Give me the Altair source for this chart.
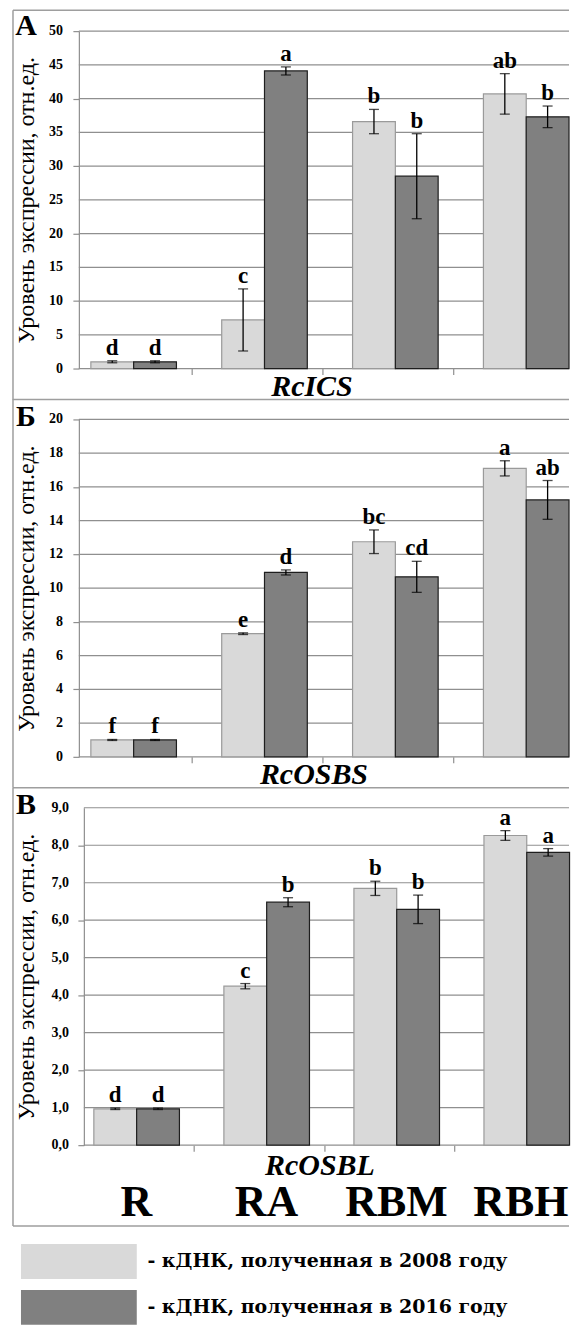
import altair as alt
import pandas as pd

# ---------------- data ----------------
categories = ["R", "RA", "RBM", "RBH"]
years = ["2008", "2016"]

ics_2008 = [1.0, 7.2, 36.6, 40.7]
ics_2008_err = [0.15, 4.6, 1.8, 3.0]
ics_2016 = [1.0, 44.1, 28.5, 37.3]
ics_2016_err = [0.15, 0.6, 6.3, 1.6]
ics_2008_letters = ["d", "c", "b", "ab"]
ics_2016_letters = ["d", "a", "b", "b"]
ics_ticks = [0, 5, 10, 15, 20, 25, 30, 35, 40, 45, 50]
ics_tick_labels = ["0", "5", "10", "15", "20", "25", "30", "35", "40", "45", "50"]

osbs_2008 = [1.0, 7.3, 12.75, 17.1]
osbs_2008_err = [0.03, 0.05, 0.7, 0.45]
osbs_2016 = [1.0, 10.93, 10.67, 15.23]
osbs_2016_err = [0.03, 0.15, 0.92, 1.15]
osbs_2008_letters = ["f", "e", "bc", "a"]
osbs_2016_letters = ["f", "d", "cd", "ab"]
osbs_ticks = [0, 2, 4, 6, 8, 10, 12, 14, 16, 18, 20]
osbs_tick_labels = ["0", "2", "4", "6", "8", "10", "12", "14", "16", "18", "20"]

osbl_2008 = [0.97, 4.24, 6.85, 8.26]
osbl_2008_err = [0.02, 0.07, 0.19, 0.13]
osbl_2016 = [0.97, 6.48, 6.29, 7.81]
osbl_2016_err = [0.02, 0.12, 0.38, 0.10]
osbl_2008_letters = ["d", "c", "b", "a"]
osbl_2016_letters = ["d", "b", "b", "a"]
osbl_ticks = [0, 1, 2, 3, 4, 5, 6, 7, 8, 9]
osbl_tick_labels = ["0,0", "1,0", "2,0", "3,0", "4,0", "5,0", "6,0", "7,0", "8,0", "9,0"]

y_title = "Уровень экспрессии, отн.ед."
legend_prefix = "- кДНК, полученная в "
legend_suffix = " году"

SERIF = "Liberation Serif"
GRID = "#8f8f8f"
COLORS = ["#d9d9d9", "#808080"]
W, H = 491, 338


def table(v08, e08, v16, e16, l08, l16):
    rows = []
    for i, c in enumerate(categories):
        for yr, v, e, l in (("2008", v08[i], e08[i], l08[i]), ("2016", v16[i], e16[i], l16[i])):
            rows.append({"cat": c, "year": yr, "value": v, "lo": v - e, "hi": v + e, "letter": l})
    return pd.DataFrame(rows)


one = pd.DataFrame({"k": [0]})


def panel(df, ticks, tick_labels, gene, letter, ymax, xrange, title_x, title_y, top, bottom,
          axis_offset=0, label_x=-16, ytitle_x=-45, letter_y=5, show_cats=False, last_dx=42):
    xscale = alt.Scale(domain=categories, range=xrange, paddingInner=0.346, paddingOuter=0)
    yscale = alt.Scale(domain=[0, ymax], nice=False)
    xaxis = alt.Axis(title=gene, labels=False, domain=False, values=["RA", "RBM", "RBH"],
                     bandPosition=0, tickOffset=-30, tickSize=6, tickColor=GRID, tickWidth=1.2,
                     grid=False, titleFont=SERIF, titleFontSize=30, titleFontWeight="bold",
                     titleFontStyle="italic", titleX=title_x, titleY=title_y, titleAlign="center",
                     titleBaseline="alphabetic", titleColor="black")
    yaxis = alt.Axis(title=y_title, values=ticks, labels=False, grid=False, offset=axis_offset,
                     tickSize=6, tickColor=GRID, tickWidth=1.2, domainColor=GRID, domainWidth=1.2,
                     titleFont=SERIF, titleFontSize=24, titleFontWeight="normal",
                     titleColor="black", titleAngle=270, titleX=ytitle_x, titleY=H / 2,
                     titleAlign="center", titleBaseline="alphabetic")
    x = alt.X("cat:N", sort=categories, scale=xscale, axis=xaxis)
    xo = alt.XOffset("year:N", sort=years, scale=alt.Scale(domain=years, paddingInner=0, paddingOuter=0))
    tick_df = pd.DataFrame({"v": ticks, "t": tick_labels})
    grid = alt.Chart(tick_df).mark_rule(color=GRID, strokeWidth=1.2).encode(
        x=alt.value(-axis_offset), x2=alt.value(W), y=alt.Y("v:Q", scale=yscale))
    base = alt.Chart(df)
    bars = base.mark_bar(strokeWidth=1.2).encode(
        x=x, xOffset=xo,
        y=alt.Y("value:Q", scale=yscale, axis=yaxis),
        color=alt.Color("year:N", scale=alt.Scale(domain=years, range=COLORS), legend=None),
        stroke=alt.when(alt.datum.year == "2008").then(alt.value("#9a9a9a")).otherwise(alt.value("#1e1e1e")),
    )
    err = base.mark_rule(color="black", strokeWidth=1.3).encode(
        x=x, xOffset=xo, y=alt.Y("lo:Q", scale=yscale), y2="hi:Q")
    cap_hi = base.mark_tick(orient="horizontal", size=10, thickness=1.3, color="black").encode(
        x=x, xOffset=xo, y=alt.Y("hi:Q", scale=yscale))
    cap_lo = base.mark_tick(orient="horizontal", size=10, thickness=1.3, color="black").encode(
        x=x, xOffset=xo, y=alt.Y("lo:Q", scale=yscale))
    letters = base.mark_text(font=SERIF, fontSize=23, fontWeight="bold", baseline="alphabetic",
                             dy=-6, color="black").encode(
        x=x, xOffset=xo, y=alt.Y("hi:Q", scale=yscale), text="letter:N")
    tlabels = alt.Chart(tick_df).mark_text(
        font=SERIF, fontSize=14, fontWeight="bold", align="right", baseline="middle",
        color="black").encode(x=alt.value(label_x), y=alt.Y("v:Q", scale=yscale), text="t:N")
    fr = alt.Chart(one).mark_rule(color="#9e9e9e", strokeWidth=1.5)
    frame_top = fr.encode(x=alt.value(-66), x2=alt.value(W), y=alt.value(top), y2=alt.value(top))
    frame_left = fr.encode(x=alt.value(-66), y=alt.value(top), y2=alt.value(bottom))
    plabel = alt.Chart(one).mark_text(font=SERIF, fontSize=30, fontWeight="bold", align="center",
                                      baseline="alphabetic", color="black").encode(
        x=alt.value(-53), y=alt.value(letter_y), text=alt.value(letter))
    layers = [grid, bars, err, cap_hi, cap_lo, letters, tlabels, frame_top, frame_left, plabel]
    if show_cats:
        frame_bot = fr.encode(x=alt.value(-66), x2=alt.value(W), y=alt.value(bottom), y2=alt.value(bottom))
        cat_base = alt.Chart(pd.DataFrame({"cat": categories}))
        cats = cat_base.transform_filter(alt.datum.cat != categories[-1]).mark_text(
            font=SERIF, fontSize=44, fontWeight="bold", baseline="alphabetic", color="black").encode(
            x=alt.X("cat:N", sort=categories, scale=xscale), y=alt.value(409), text="cat:N")
        cat_last = cat_base.transform_filter(alt.datum.cat == categories[-1]).mark_text(
            font=SERIF, fontSize=44, fontWeight="bold", baseline="alphabetic", align="right",
            dx=last_dx, color="black").encode(
            x=alt.X("cat:N", sort=categories, scale=xscale), y=alt.value(409), text="cat:N")
        layers += [frame_bot, cats, cat_last]
    return alt.layer(*layers).properties(width=W, height=H)


pa = panel(table(ics_2008, ics_2008_err, ics_2016, ics_2016_err, ics_2008_letters, ics_2016_letters),
           ics_ticks, ics_tick_labels, "RcICS", "А", 50, [12, W], 233, 27, -21, 369.5, letter_y=4)
pb = panel(table(osbs_2008, osbs_2008_err, osbs_2016, osbs_2016_err, osbs_2008_letters, osbs_2016_letters),
           osbs_ticks, osbs_tick_labels, "RcOSBS", "Б", 20, [12, W], 235, 27, -20, 369, letter_y=7)
pc = panel(table(osbl_2008, osbl_2008_err, osbl_2016, osbl_2016_err, osbl_2008_letters, osbl_2016_letters),
           osbl_ticks, osbl_tick_labels, "RcOSBL", "В", 9, [15, W], 241, 29, -20, 419,
           axis_offset=-5, label_x=-10, ytitle_x=-50, letter_y=6, show_cats=True, last_dx=42)

# legend drawn as its own small view, driven by the years list
LH = 129
ly = alt.Y("year:N", sort=years, axis=None,
           scale=alt.Scale(domain=years, range=[48, LH], paddingInner=0.239, paddingOuter=0))
leg_base = alt.Chart(pd.DataFrame({"year": years})).transform_calculate(
    label=f"'{legend_prefix}' + datum.year + '{legend_suffix}'")
leg_box = leg_base.mark_rect().encode(
    x=alt.value(-58), x2=alt.value(58), y=ly,
    color=alt.Color("year:N", scale=alt.Scale(domain=years, range=COLORS), legend=None))
leg_txt = leg_base.mark_text(align="center", baseline="middle", font="DejaVu Serif",
                             fontWeight="bold", fontSize=19, color="black").encode(
    x=alt.value(249), y=ly, text="label:N")
legend = alt.layer(leg_box, leg_txt).properties(width=W, height=LH)

chart = alt.vconcat(pa, pb, pc, legend, spacing=51, bounds="flush").properties(
    padding={"left": 4, "top": 0, "right": 0, "bottom": 0},
).configure_view(stroke=None)

chart.save("out.html", embed_options={"renderer": "svg", "actions": False})
